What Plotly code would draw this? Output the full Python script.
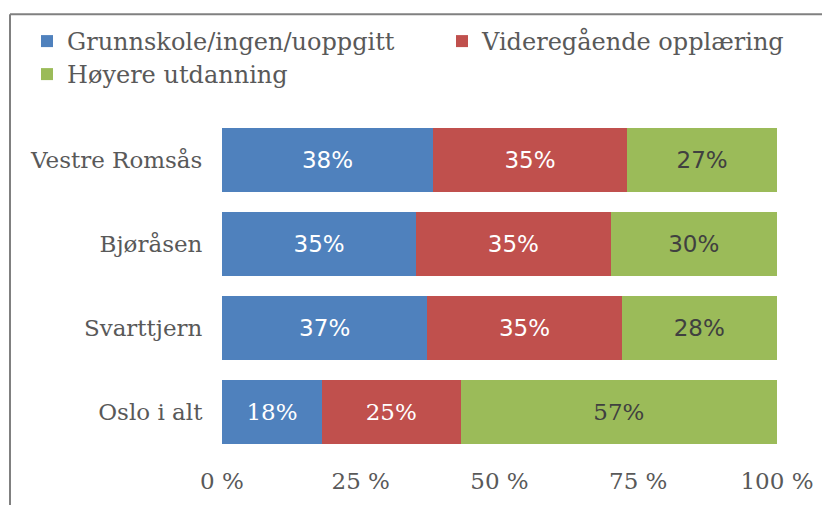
import plotly.graph_objects as go

categories = ["Vestre Romsås", "Bjøråsen", "Svarttjern", "Oslo i alt"]
series_names = ["Grunnskole/ingen/uoppgitt", "Videregående opplæring", "Høyere utdanning"]
grunnskole = [38, 35, 37, 18]
videregaende = [35, 35, 35, 25]
hoyere = [27, 30, 28, 57]
tick_vals = [0, 25, 50, 75, 100]
tick_text = ["0 %", "25 %", "50 %", "75 %", "100 %"]

colors = ["#4F81BD", "#C0504D", "#9BBB59"]
text_colors = ["white", "white", "#404040"]
SERIF = "DejaVu Serif"
SANS = "DejaVu Sans"
label_fonts = [SANS, SANS, SANS, SERIF]
legend_ids = ["legend", "legend2", "legend3"]

W, H = 830, 505
OFF = 8  # page body margin offset
l, r, t, b = 222 - OFF, 830 - (777 - OFF), 117 - OFF, 505 - (454 - OFF)
pw, ph = W - l - r, H - t - b

def px_x(x):
    return (x - OFF - l) / pw

def px_y(y):
    return (H - b - (y - OFF)) / ph

fig = go.Figure()
for name, vals, c, tc, lg in zip(series_names, [grunnskole, videregaende, hoyere], colors, text_colors, legend_ids):
    fig.add_trace(go.Bar(
        y=categories, x=vals, name=name, orientation="h", legend=lg,
        marker=dict(color=c, line=dict(width=0)),
        text=[f"{v}%" for v in vals], textposition="inside",
        insidetextanchor="middle",
        textfont=dict(family=label_fonts, size=23, color=tc),
    ))

legend_pos = {"legend": (27, 19), "legend2": (442, 19), "legend3": (27, 52)}

def legend_cfg(xp, yp):
    return dict(orientation="h", x=px_x(xp), y=px_y(yp), xanchor="left", yanchor="top",
                bgcolor="rgba(0,0,0,0)", itemclick=False, visible=True,
                font=dict(family=SERIF, size=24, color="#595959"))

fig.update_layout(
    width=W, height=H, barmode="stack", bargap=0.24, showlegend=True,
    margin=dict(l=l, r=r, t=t, b=b),
    paper_bgcolor="white", plot_bgcolor="white",
    font=dict(family=SERIF, size=23, color="#595959"),
    uniformtext=dict(mode=False),
    legend=legend_cfg(*legend_pos["legend"]),
    legend2=legend_cfg(*legend_pos["legend2"]),
    legend3=legend_cfg(*legend_pos["legend3"]),
    xaxis=dict(range=[0, 100], tickvals=tick_vals, ticktext=tick_text, showgrid=False,
               zeroline=False, showline=False, ticks="outside", ticklen=6,
               tickcolor="rgba(0,0,0,0)", fixedrange=True),
    yaxis=dict(categoryorder="array", categoryarray=categories[::-1], showgrid=False,
               showline=False, ticks="outside", ticklen=14, tickcolor="rgba(0,0,0,0)"),
    shapes=[
        dict(type="line", xref="paper", yref="paper", x0=px_x(10), x1=px_x(845),
             y0=px_y(13), y1=px_y(13), line=dict(color="#808080", width=2)),
        dict(type="line", xref="paper", yref="paper", x0=px_x(10), x1=px_x(10),
             y0=px_y(13), y1=px_y(520), line=dict(color="#808080", width=2)),
    ],
)

fig.write_html("out.html")
